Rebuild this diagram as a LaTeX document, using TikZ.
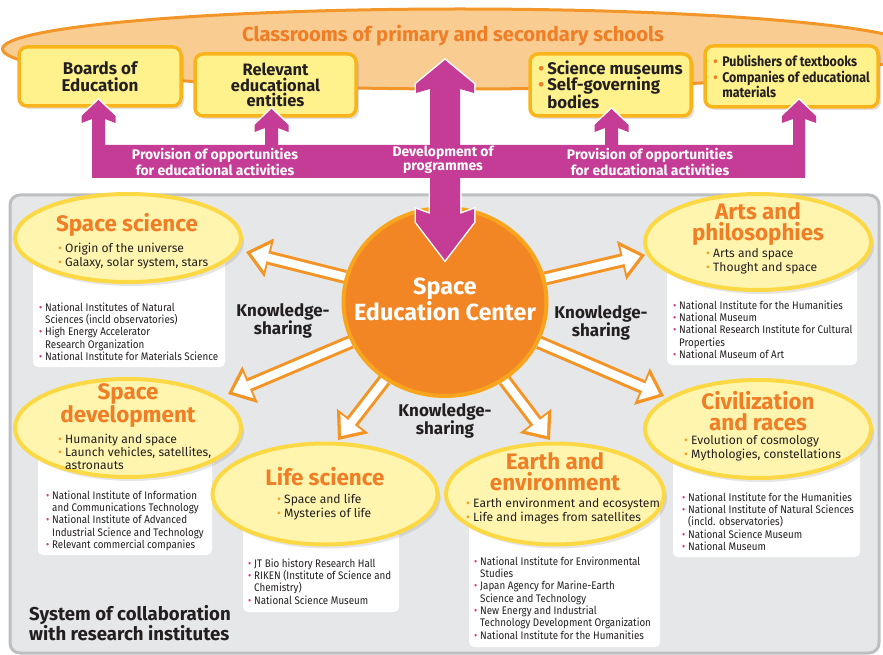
\documentclass[tikz,border=0pt]{standalone}
\usepackage{fontspec}
\setmainfont{Fira Sans}
\newfontfamily\narrowfont{Fira Sans}[FakeStretch=0.89]
\usetikzlibrary{shapes.geometric,arrows.meta,shadows}
\pgfdeclarelayer{front}
\pgfsetlayers{main,front}

\definecolor{schoolfill}{HTML}{F9CD92}
\definecolor{schoolline}{HTML}{F39629}
\definecolor{titleorange}{HTML}{F07E26}
\definecolor{boxfill}{HTML}{FFF28C}
\definecolor{boxline}{HTML}{F9B41C}
\definecolor{provmag}{HTML}{C43C96}
\definecolor{panelfill}{HTML}{E6E7E8}
\definecolor{panelline}{HTML}{BDBEC0}
\definecolor{ellfill}{HTML}{FFF5AE}
\definecolor{ellline}{HTML}{FDD845}
\definecolor{centerfill}{HTML}{F28524}
\definecolor{centerline}{HTML}{F8A51D}
\definecolor{ksorange}{HTML}{F39425}
\definecolor{dotorange}{HTML}{F6A01D}
\definecolor{dotpink}{HTML}{D2378E}
\definecolor{textdark}{HTML}{231F20}

\newcommand{\ebul}{\makebox[7pt][l]{\textcolor{dotorange}{\textbullet}}}
\newcommand{\bbul}{\makebox[9pt][l]{\textcolor{titleorange}{\textbullet}}}
\newcommand{\lbul}{\makebox[6pt][l]{\textcolor{dotpink}{\textbullet}}}
\newcommand{\lind}{\hspace*{6pt}}

\begin{document}
\begin{tikzpicture}[x=1pt,y=-1pt,
  orgbox/.style={draw=boxline, line width=3.5pt, fill=boxfill, rounded corners=8pt, text=textdark, align=center, inner sep=0pt, drop shadow={opacity=0.25,shadow xshift=3pt,shadow yshift=-3pt}},
  field/.style={ellipse, draw=ellline, line width=4pt, fill=ellfill, inner sep=0pt, drop shadow={opacity=0.2,shadow xshift=3pt,shadow yshift=-4pt}},
  fieldtitle/.style={text=titleorange, align=center, inner sep=0pt, font=\bfseries\fontsize{22.4}{21.5}\selectfont},
  topics/.style={anchor=north west, align=left, inner sep=0pt, text=textdark, font=\fontsize{12.1}{14}\selectfont},
  instbox/.style={fill=white, rounded corners=5pt},
  insts/.style={anchor=north west, align=left, inner sep=0pt, text=textdark, font=\narrowfont\fontsize{11}{12.3}\selectfont},
  kslabel/.style={text=textdark, align=center, inner sep=0pt, font=\bfseries\fontsize{17}{15.5}\selectfont},
  ksout/.style={draw=ksorange, line width=14pt, -{Triangle[width=40pt,length=24pt,line width=0pt]}},
  ksin/.style={draw=white, line width=8pt, shorten >=5pt, -{Triangle[width=28pt,length=17pt,line width=0pt]}},
  bandtext/.style={text=white, align=center, inner sep=0pt, font=\bfseries\fontsize{13.9}{14}\selectfont},
  panel/.style={fill=panelfill, draw=panelline, line width=3pt, rounded corners=10pt}]
\useasboundingbox (0,0) rectangle (883,655);

% classrooms
\node[ellipse, draw=schoolline, line width=3pt, fill=schoolfill, minimum width=915pt, minimum height=80pt] (school) at (460,49) {};
\node[text=titleorange, inner sep=0pt, font=\bfseries\fontsize{20.2}{20}\selectfont] (schoolT) at (453,36) {Classrooms of primary and secondary schools};

% partners
\node[orgbox, minimum width=162pt, minimum height=59pt, font=\bfseries\fontsize{17}{17}\selectfont] (boe) at (100,76.5) {Boards of\\Education};
\node[orgbox, minimum width=161pt, minimum height=62pt, font=\bfseries\fontsize{16.5}{15.5}\selectfont] (ree) at (275.5,85) {Relevant\\educational\\entities};
\node[orgbox, minimum width=161pt, minimum height=62pt, align=left, font=\bfseries\fontsize{16.8}{16}\selectfont] (smu) at (610.5,85) {\bbul Science museums\\\bbul Self-governing\\\hspace*{9pt}bodies};
\node[orgbox, minimum width=173pt, minimum height=61pt, align=left, font=\narrowfont\bfseries\fontsize{14}{15.5}\selectfont] (pub) at (791.5,76.5) {\bbul Publishers of textbooks\\\bbul Companies of educational\\\hspace*{9pt}materials};

% research institutes
\draw[panel] (10,195) rectangle (879,653);

\fill[instbox] (33,250) rectangle (225,367);
\node[insts] (ssL) at (39,302.5) {\lbul National Institutes of Natural\\\lind Sciences (incld observatories)\\\lbul High Energy Accelerator\\\lind Research Organization\\\lbul National Institute for Materials Science};
\fill[instbox] (667,260) rectangle (857,365);
\node[insts] (apL) at (673,300.5) {\lbul National Institute for the Humanities\\\lbul National Museum\\\lbul National Research Institute for Cultural\\\lind Properties\\\lbul National Museum of Art};
\fill[instbox] (38,440) rectangle (212,555);
\node[insts] (sdL) at (46,490.5) {\lbul National Institute of Information\\\lind and Communications Technology\\\lbul National Institute of Advanced\\\lind Industrial Science and Technology\\\lbul Relevant commercial companies};
\fill[instbox] (243,500) rectangle (399,612);
\node[insts] (lsL) at (248,558.5) {\lbul JT Bio history Research Hall\\\lbul RIKEN (Institute of Science and\\\lind Chemistry)\\\lbul National Science Museum};
\fill[instbox] (469,500) rectangle (660,647);
\node[insts] (eeL) at (474,556.5) {\lbul National Institute for Environmental\\\lind Studies\\\lbul Japan Agency for Marine-Earth\\\lind Science and Technology\\\lbul New Energy and Industrial\\\lind Technology Development Organization\\\lbul National Institute for the Humanities};
\fill[instbox] (673,440) rectangle (860,557);
\node[insts] (crL) at (682,492.5) {\lbul National Institute for the Humanities\\\lbul National Institute of Natural Sciences\\\lind (incld. observatories)\\\lbul National Science Museum\\\lbul National Museum};

% fields
\node[field, minimum width=226pt, minimum height=88pt] (ss) at (128,238) {};
\node[fieldtitle] (ssT) at (127,225) {Space science};
\node[topics] (ssB) at (58,243) {\ebul Origin of the universe\\\ebul Galaxy, solar system, stars};
\node[field, minimum width=226pt, minimum height=96pt] (ap) at (758,242) {};
\node[fieldtitle] (apT) at (758,224) {Arts and\\philosophies};
\node[topics] (apB) at (706,248) {\ebul Arts and space\\\ebul Thought and space};
\node[field, minimum width=226pt, minimum height=98pt] (sd) at (128,428) {};
\node[fieldtitle] (sdT) at (128,406) {Space\\development};
\node[topics, font=\fontsize{12.1}{13}\selectfont] (sdB) at (58,434) {\ebul Humanity and space\\\ebul Launch vehicles, satellites,\\\hspace*{7pt}astronauts};
\node[field, minimum width=225pt, minimum height=101pt] (ls) at (325,494) {};
\node[fieldtitle] (lsT) at (325,477) {Life science};
\node[topics] (lsB) at (277,494) {\ebul Space and life\\\ebul Mysteries of life};
\node[field, minimum width=218pt, minimum height=101pt] (ee) at (555,494) {};
\node[fieldtitle] (eeT) at (555,471.5) {Earth and\\environment};
\node[topics] (eeB) at (466,497.5) {\ebul Earth environment and ecosystem\\\ebul Life and images from satellites};
\node[field, minimum width=226pt, minimum height=98pt] (cr) at (758,429) {};
\node[fieldtitle] (crT) at (758,411) {Civilization\\and races};
\node[topics] (crB) at (684,435) {\ebul Evolution of cosmology\\\ebul Mythologies, constellations};

\node[text=textdark, anchor=west, align=left, inner sep=0pt, font=\bfseries\fontsize{18.6}{19}\selectfont] (sys) at (29,623) {System of collaboration\\with research institutes};

% centre and programmes
\begin{pgfonlayer}{front}
\node[ellipse, draw=centerline, line width=4pt, fill=centerfill, minimum width=203pt, minimum height=188pt, inner sep=0pt] (sec) at (445,302) {};
\node[text=white, align=center, inner sep=0pt, font=\bfseries\fontsize{23.4}{26}\selectfont] (secT) at (445,299) {Space\\Education Center};
\fill[provmag, preaction={draw=white, line width=3pt}]
  (92,178) -- (92,119) -- (81.5,123) -- (81.5,116) -- (98.5,100) -- (115.5,116) -- (115.5,123) -- (105,119) -- (105,145)
  -- (265,145) -- (265,128) -- (254.5,132) -- (254.5,125) -- (271.5,109) -- (288.5,125) -- (288.5,132) -- (278,128) -- (278,145)
  -- (605,145) -- (605,128) -- (594.5,132) -- (594.5,125) -- (611.5,109) -- (628.5,125) -- (628.5,132) -- (618,128) -- (618,145)
  -- (793,145) -- (793,119) -- (782,123) -- (782,116) -- (799,100) -- (816,116) -- (816,123) -- (805,119) -- (805,178) -- cycle
  (445,60) -- (474,84) -- (474,93) -- (460,89) -- (460,214) -- (474,209) -- (474,222) -- (445,260)
  -- (416,222) -- (416,209) -- (430,214) -- (430,89) -- (416,93) -- (416,84) -- cycle;
\node[bandtext] (prov1) at (215,162) {Provision of opportunities\\for educational activities};
\node[bandtext] (devp) at (443,160) {Development of\\programmes};
\node[bandtext] (prov2) at (650,162) {Provision of opportunities\\for educational activities};
\end{pgfonlayer}

% knowledge-sharing
\coordinate (ksss) at (246,252);
\coordinate (kssd) at (228,394);
\coordinate (ksls) at (338,440);
\coordinate (ksee) at (550,440);
\coordinate (ksap) at (645,255);
\coordinate (kscr) at (664,396);
\foreach \t in {ksss,kssd,ksls,ksee,ksap,kscr}{
  \draw[ksout] (sec) -- (\t);
  \draw[ksin] (sec) -- (\t);
}
\node[kslabel] (ks1) at (283,321) {Knowledge-\\sharing};
\node[kslabel] (ks2) at (601,323) {Knowledge-\\sharing};
\node[kslabel] (ks3) at (445,421) {Knowledge-\\sharing};

\end{tikzpicture}
\end{document}
